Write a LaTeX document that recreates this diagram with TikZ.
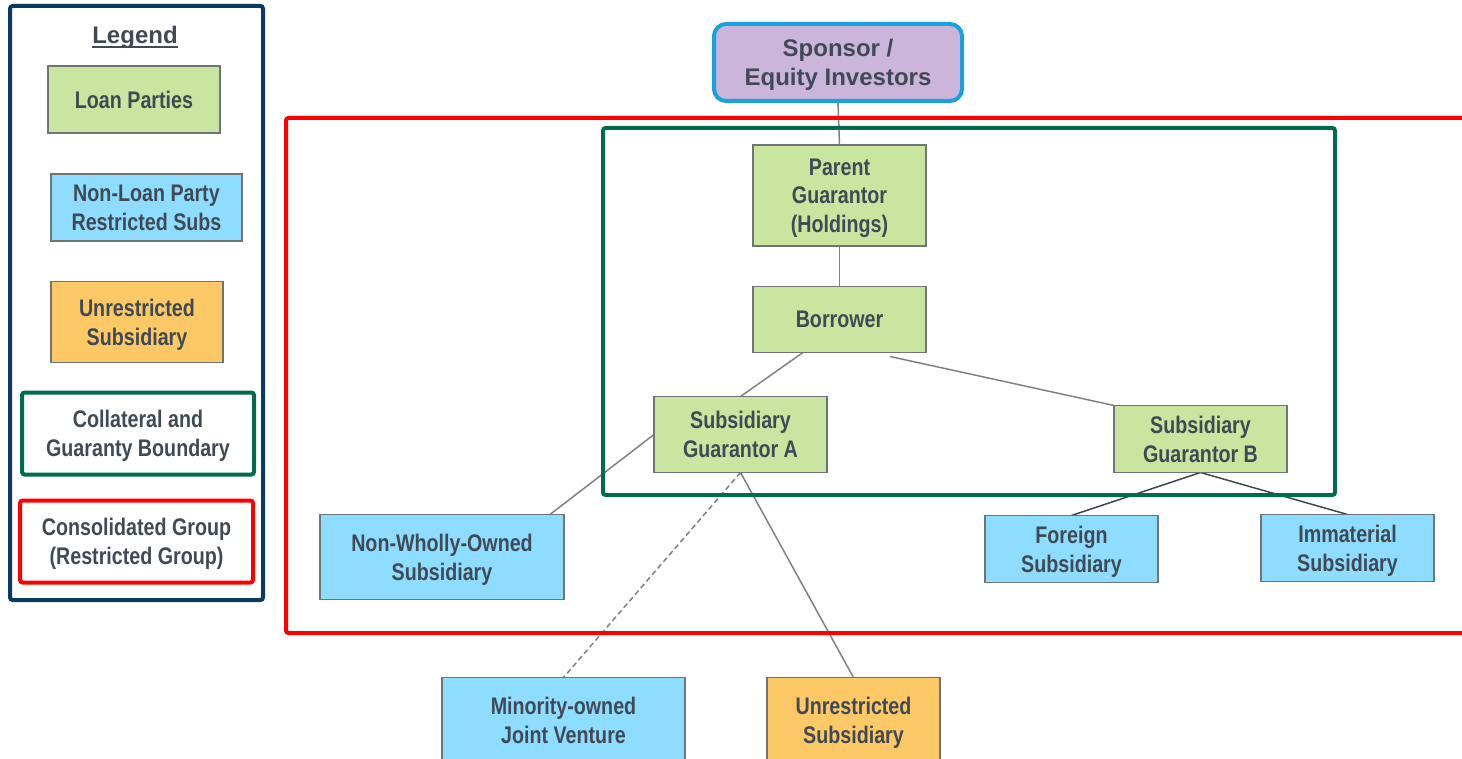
\documentclass[tikz,border=0pt]{standalone}
\usepackage{fontspec}
\setmainfont{Liberation Sans}
\newfontfamily\narrowf{Liberation Sans}[FakeStretch=0.82]
\usetikzlibrary{calc}
\definecolor{txt}{HTML}{404A54}
\definecolor{boxgray}{HTML}{6E7478}
\definecolor{loangreen}{HTML}{C9E5A0}
\definecolor{nlpblue}{HTML}{8EDCFF}
\definecolor{unrorange}{HTML}{FDC866}
\definecolor{navy}{HTML}{0B3A63}
\definecolor{cgreen}{HTML}{006B4F}
\definecolor{cred}{HTML}{FF0000}
\definecolor{sppurple}{HTML}{CBB5DB}
\definecolor{spblue}{HTML}{1BA0DE}
\definecolor{linegray}{HTML}{7F7F7F}
\definecolor{darkline}{HTML}{3E4650}
\pgfdeclarelayer{bg}\pgfdeclarelayer{mid}\pgfsetlayers{bg,mid,main}
\tikzset{
  ent/.style={draw=boxgray, line width=0.8pt, text=txt, font=\narrowf\bfseries\fontsize{18}{21.5}\selectfont, align=center, inner sep=0pt, outer sep=0pt, text depth=0pt},
  loan/.style={ent, fill=loangreen},
  nlp/.style={ent, fill=nlpblue},
  unr/.style={ent, fill=unrorange},
  conn/.style={draw=linegray, line width=1.1pt},
  connd/.style={conn, dash pattern=on 4pt off 2.5pt},
  conndark/.style={draw=darkline, line width=1.1pt},
  frame/.style={line width=3pt, rounded corners=2pt},
  legframe/.style={ent, fill=white, line width=3pt, rounded corners=2pt}
}
\begin{document}
\begin{tikzpicture}[x=0.75pt,y=-0.75pt]
\useasboundingbox (0,0) rectangle (1462,759);
\begin{pgfonlayer}{bg}
\fill[white] (0,0) rectangle (1462,759);
\end{pgfonlayer}

% legend
\draw[frame, draw=navy] (10,6) rectangle (263,600);
\node[text=txt, font=\bfseries\fontsize{18}{21.5}\selectfont, inner sep=0pt, text depth=0pt] (legtitle) at (135,35) {Legend};
\draw[draw=txt, line width=1.4pt] ([yshift=-2.6pt]legtitle.base west) -- ([yshift=-2.6pt]legtitle.base east);
\node[loan, minimum width=129pt, minimum height=50.25pt] (lg1) at (134,99.5) {Loan Parties};
\node[nlp, minimum width=143.25pt, minimum height=50.25pt] (lg2) at (146.5,207.5) {Non-Loan Party\\Restricted Subs};
\node[unr, minimum width=129pt, minimum height=60.75pt] (lg3) at (137,322) {Unrestricted\\Subsidiary};
\node[legframe, draw=cgreen, minimum width=174pt, minimum height=61.5pt] (lg4) at (138,433.5) {Collateral and\\Guaranty Boundary};
\node[legframe, draw=cred, minimum width=174.75pt, minimum height=61.5pt] (lg5) at (136.5,541.5) {Consolidated Group\\(Restricted Group)};

% main diagram
\node[draw=spblue, fill=sppurple, line width=3pt, rounded corners=9pt, text=txt, font=\bfseries\fontsize{18}{22}\selectfont, align=center, inner sep=0pt, text depth=0pt, minimum width=186pt, minimum height=57.75pt] (sponsor) at (838,62.5) {Sponsor /\\Equity Investors};
\node[loan, minimum width=129.75pt, minimum height=75.75pt] (parent) at (839.5,195.5) {Parent\\Guarantor\\(Holdings)};
\node[loan, minimum width=129.75pt, minimum height=49.5pt] (borrower) at (839.5,319.5) {Borrower};
\node[loan, minimum width=129.75pt, minimum height=57pt] (subA) at (740.5,434.5) {Subsidiary\\Guarantor A};
\node[loan, minimum width=129.75pt, minimum height=50.25pt] (subB) at (1200.5,439) {Subsidiary\\Guarantor B};
\node[nlp, minimum width=183pt, minimum height=63.75pt] (nonwholly) at (442,557) {Non-Wholly-Owned\\Subsidiary};
\node[nlp, minimum width=129.75pt, minimum height=50.25pt] (foreign) at (1071.5,549) {Foreign\\Subsidiary};
\node[nlp, minimum width=129.75pt, minimum height=50.25pt] (immaterial) at (1347.5,548) {Immaterial\\Subsidiary};
\node[nlp, minimum width=182.25pt, minimum height=63.75pt] (jv) at (563.5,720) {Minority-owned\\Joint Venture};
\node[unr, minimum width=129.75pt, minimum height=63.75pt] (unrestricted) at (853.5,720) {Unrestricted\\Subsidiary};

\begin{pgfonlayer}{mid}
\draw[frame, draw=cred] (286,118) -- (1475,118) -- (1475,633) -- (286,633) -- cycle;
\draw[frame, draw=cgreen] (603,128) rectangle (1335,495);
\end{pgfonlayer}

\begin{pgfonlayer}{bg}
\draw[conn] (sponsor.south) -- (parent.north);
\draw[conn] (parent.south) -- (borrower.north);
\draw[conn] ([xshift=-27.4pt]borrower.south) -- (subA.north);
\draw[conn] ([xshift=37.9pt,yshift=-3pt]borrower.south) -- (subB.north west);
\draw[conn] (subA.west) -- ([xshift=81pt]nonwholly.north);
\draw[connd] (subA.south) -- (jv.north);
\draw[conn] (subA.south) -- (unrestricted.north);
\draw[conndark] (subB.south) -- (foreign.north);
\draw[conndark] (subB.south) -- (immaterial.north);
\end{pgfonlayer}
\end{tikzpicture}
\end{document}
